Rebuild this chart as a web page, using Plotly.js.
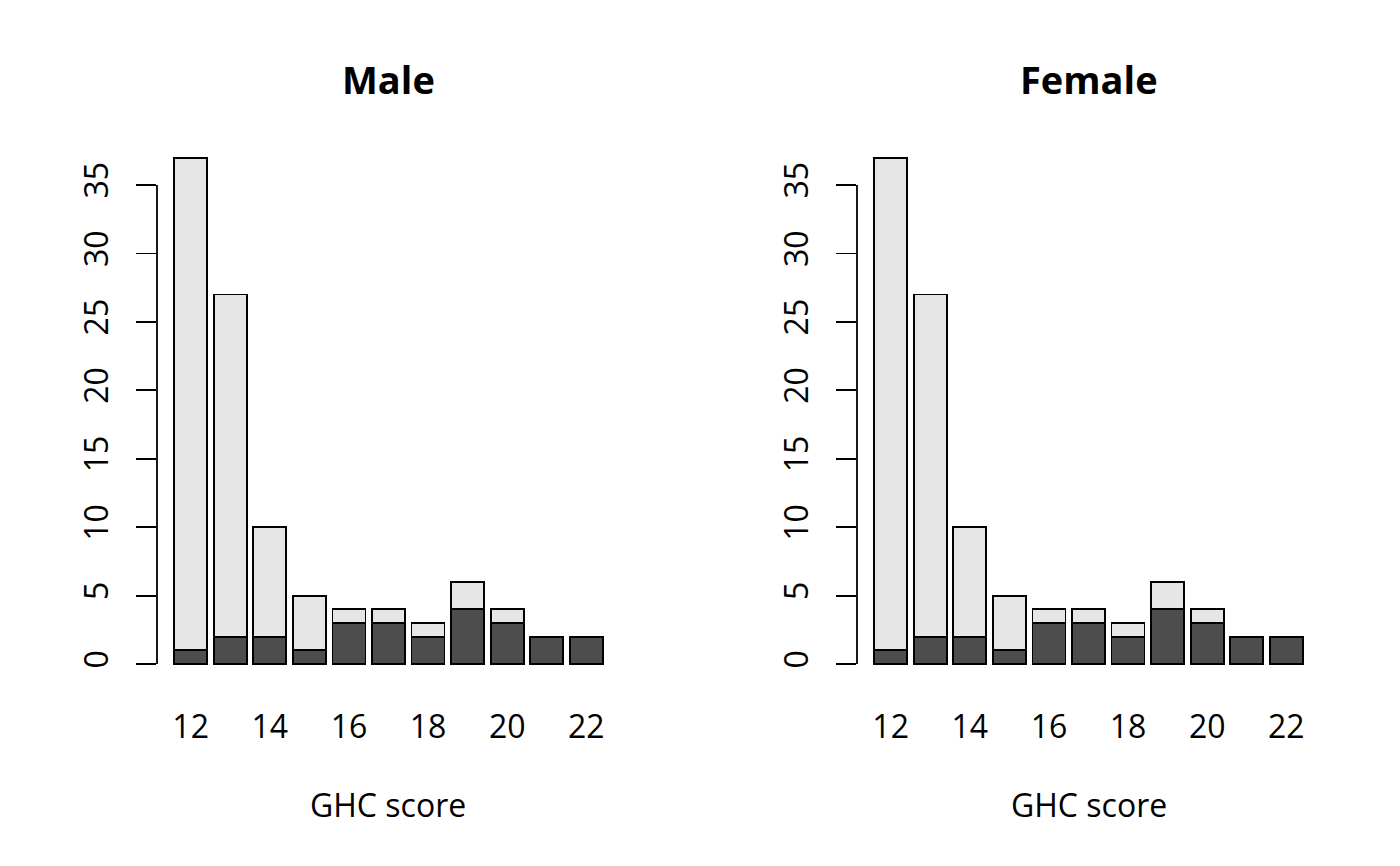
<!DOCTYPE html>
<html>
<head>
<meta charset="utf-8">
<script src="https://cdn.plot.ly/plotly-3.0.1.min.js"></script>
<style>html,body{margin:0;padding:0;background:#fff;}#chart{width:1400px;height:866px;}</style>
</head>
<body>
<div id="chart"></div>
<script>
const scores = [12, 13, 14, 15, 16, 17, 18, 19, 20, 21, 22];
const maleTotal = [37, 27, 10, 5, 4, 4, 3, 6, 4, 2, 2];
const maleDark = [1, 2, 2, 1, 3, 3, 2, 4, 3, 2, 2];
const femaleTotal = [37, 27, 10, 5, 4, 4, 3, 6, 4, 2, 2];
const femaleDark = [1, 2, 2, 1, 3, 3, 2, 4, 3, 2, 2];
const xTicks = [12, 14, 16, 18, 20, 22];
const yTicks = [0, 5, 10, 15, 20, 25, 30, 35];
const panelTitles = ["Male", "Female"];
const xLabel = "GHC score";

const FONT = "Open Sans, Noto Sans, DejaVu Sans, sans-serif";
const FS = 32;
const LW = 1.8;
const barW = 1 / 1.2;

function panel(total, dark, xa, ya) {
  const light = total.map((t, i) => t - dark[i]);
  return [
    {type: "bar", x: scores, y: dark, xaxis: xa, yaxis: ya, width: barW,
     marker: {color: "#4d4d4d", line: {color: "#000", width: LW}}, hoverinfo: "x+y", showlegend: false},
    {type: "bar", x: scores, y: light, xaxis: xa, yaxis: ya, width: barW,
     marker: {color: "#e6e6e6", line: {color: "#000", width: LW}}, hoverinfo: "x+y", showlegend: false}
  ];
}

const data = [].concat(panel(maleTotal, maleDark, "x", "y"), panel(femaleTotal, femaleDark, "x2", "y2"));

const W = 1400, H = 866;
const dom1 = [157 / W, 620 / W];
const dom2 = [857 / W, 1320 / W];
const ydom = [1 - 684.3 / H, 1 - 137.4 / H];
const xr = [scores[0] - 0.85, scores[scores.length - 1] + 0.85];
const yr = [-1.48, 38.48];

function xaxis(dom) {
  return {domain: dom, range: xr, showline: false, showgrid: false, zeroline: false,
    tickmode: "array", tickvals: xTicks, ticktext: xTicks.map(String), ticks: "",
    tickfont: {family: FONT, size: FS, color: "#000"}, ticklabelstandoff: 21, fixedrange: true};
}
function yaxis(anchor) {
  return {domain: ydom, range: yr, anchor: anchor, showline: false, showgrid: false, zeroline: false,
    tickmode: "array", tickvals: yTicks, ticktext: yTicks.map(String), ticks: "outside",
    ticklen: 20, tickwidth: LW, tickcolor: "#000", tickangle: -90,
    tickfont: {family: FONT, size: FS, color: "#000"}, ticklabelstandoff: 15, fixedrange: true};
}

const shapes = [["x", "y"], ["x2", "y2"]].map(([xa, ya]) => ({
  type: "line", xref: xa + " domain", yref: ya, x0: 0, x1: 0,
  y0: yTicks[0], y1: yTicks[yTicks.length - 1], line: {color: "#000", width: LW}
}));

const doms = [dom1, dom2];
const annotations = [];
doms.forEach((d, i) => {
  const cx = (d[0] + d[1]) / 2;
  annotations.push({text: "<b>" + panelTitles[i] + "</b>", xref: "paper", yref: "paper",
    x: cx, y: 1 - 79 / H, xanchor: "center", yanchor: "middle", showarrow: false,
    font: {family: FONT, size: 38, color: "#000"}});
  annotations.push({text: xLabel, xref: "paper", yref: "paper",
    x: cx, y: 1 - 804 / H, xanchor: "center", yanchor: "middle", showarrow: false,
    font: {family: FONT, size: FS, color: "#000"}});
});

const layout = {
  width: W, height: H, margin: {l: 0, r: 0, t: 0, b: 0},
  paper_bgcolor: "#fff", plot_bgcolor: "#fff",
  barmode: "stack", bargap: 0,
  xaxis: xaxis(dom1), yaxis: yaxis("x"),
  xaxis2: xaxis(dom2), yaxis2: yaxis("x2"),
  shapes: shapes, annotations: annotations, showlegend: false
};

Plotly.newPlot("chart", data, layout, {displayModeBar: false, staticPlot: true});
</script>
</body>
</html>
